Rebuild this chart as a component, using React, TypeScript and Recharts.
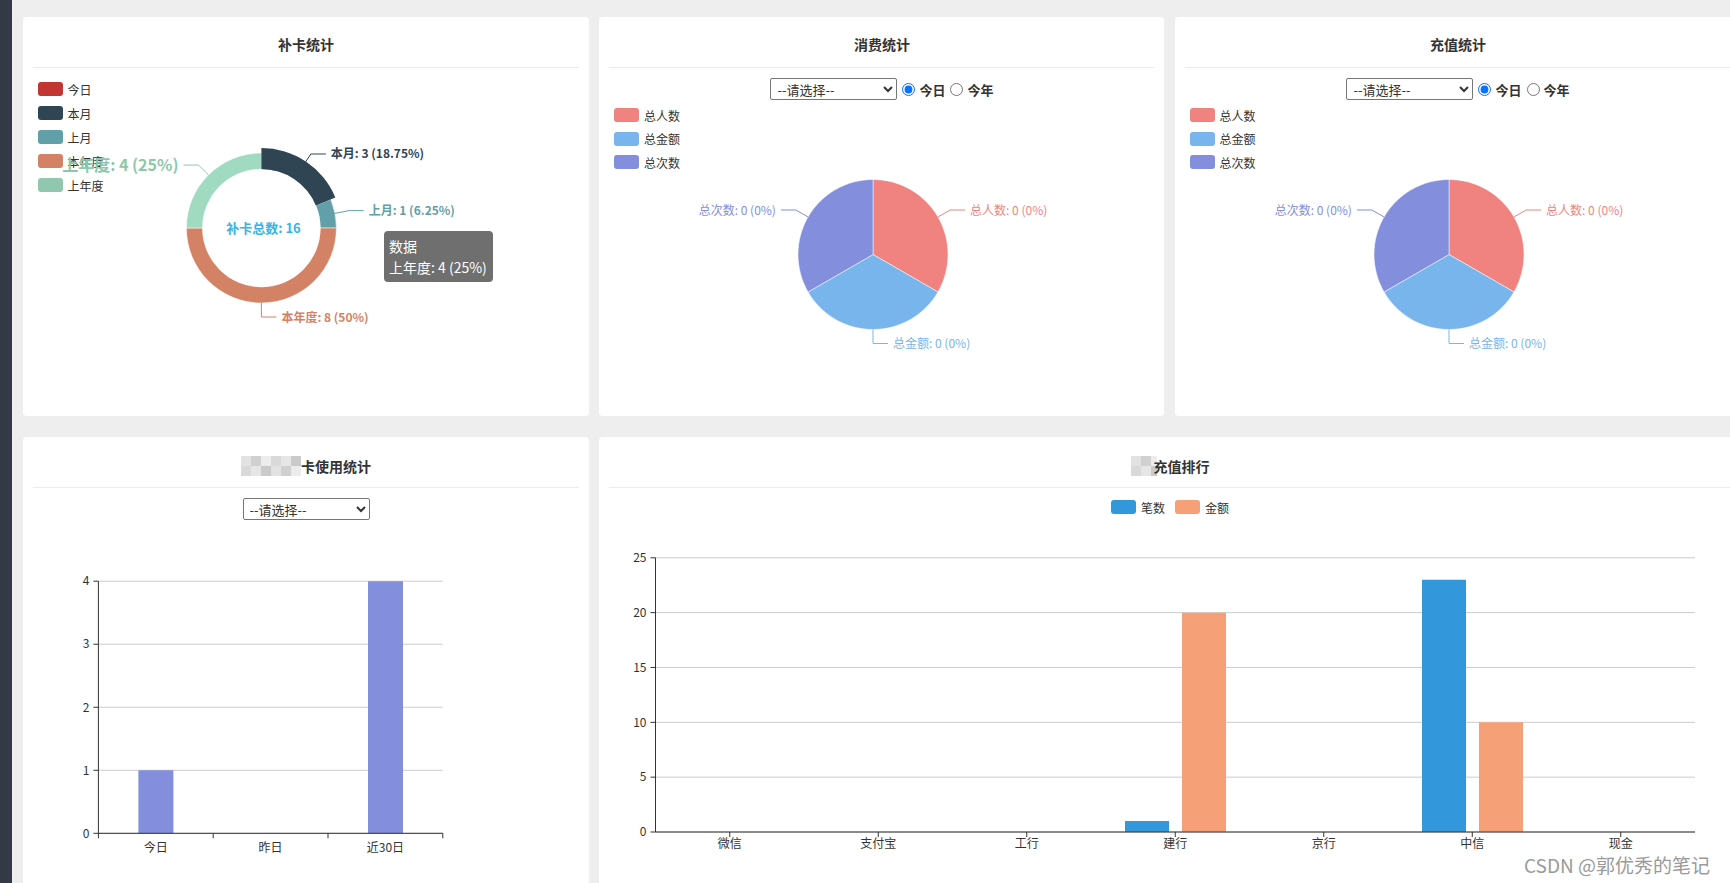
import React from "react";
import { PieChart, Pie, Cell, BarChart, Bar, XAxis, YAxis, CartesianGrid } from "recharts";

const FONT = "'Noto Sans CJK SC', 'Noto Sans', sans-serif";
const RAD = Math.PI / 180;

// 补卡统计
const cardNames = ["今日", "本月", "上月", "本年度", "上年度"];
const cardValues = [0, 3, 1, 8, 4];
const cardColors = ["#c23531", "#2f4554", "#61a0a8", "#d48265", "#91c7ae"];
const cardHover = "上年度"; // label emphasised + tooltip
const cardRaised = "本月"; // sector drawn a bit bigger

// 消费统计 / 充值统计
const sumNames = ["总人数", "总金额", "总次数"];
const consumeValues = [0, 0, 0];
const rechargeValues = [0, 0, 0];
const sumColors = ["#f08380", "#78b5ed", "#838edd"];

// 卡使用统计
const usageDays = ["今日", "昨日", "近30日"];
const usageCounts = [1, 0, 4];
const usageTicks = [0, 1, 2, 3, 4];

// 充值排行
const channels = ["微信", "支付宝", "工行", "建行", "京行", "中信", "现金"];
const channelCounts = [0, 0, 0, 1, 0, 23, 0];
const channelAmounts = [0, 0, 0, 20, 0, 10, 0];
const rankTicks = [0, 5, 10, 15, 20, 25];

const pct = (v: number, total: number) => (total ? +((v / total) * 100).toFixed(2) : 0);

// echarts-like pie label: radial leg, horizontal leg, text
function pieLabel(total: number, bold: boolean, hover?: string) {
  return (props: any) => {
    const { cx, cy, midAngle, outerRadius, payload } = props;
    const row = payload || props;
    if (total > 0 && row.count === 0) return null;
    const cos = Math.cos(-midAngle * RAD);
    const sin = Math.sin(-midAngle * RAD);
    const sx = cx + outerRadius * cos;
    const sy = cy + outerRadius * sin;
    const mx = cx + (outerRadius + 14) * cos;
    const my = cy + (outerRadius + 14) * sin;
    const right = cos > -1e-6;
    const ex = mx + (right ? 15 : -15);
    const em = row.name === hover;
    return (
      <g>
        <polyline points={`${sx},${sy} ${mx},${my} ${ex},${my}`} fill="none" stroke={row.labelColor} strokeWidth={1} />
        <text
          x={ex + (right ? 5 : -5)}
          y={my - 1}
          textAnchor={right ? "start" : "end"}
          dominantBaseline="central"
          fill={row.labelColor}
          fontSize={em ? 16 : 12}
          fontWeight={bold || em ? "bold" : "normal"}
          fontFamily={FONT}
        >
          {`${row.name}: ${row.count} (${pct(row.count, total)}%)`}
        </text>
      </g>
    );
  };
}

function Panel({ left, top, width, height, title, children }: any) {
  return (
    <div style={{ position: "absolute", left, top, width, height, background: "#fff", borderRadius: 4, overflow: "hidden" }}>
      <div style={{ position: "absolute", left: 0, right: 0, top: 17, height: 20, lineHeight: "20px", textAlign: "center", fontWeight: "bold", fontSize: 14, color: "#333" }}>
        {title}
      </div>
      <div style={{ position: "absolute", left: 10, right: 10, top: 50, height: 1, background: "#ececec" }} />
      {children}
    </div>
  );
}

function Mosaic({ width }: { width: number }) {
  const shades = ["#e2e2e2", "#d0d0d0", "#ececec", "#d9d9d9", "#e6e6e6", "#cacaca"];
  const cells = [];
  for (let i = 0; i < Math.ceil(width / 10); i++) {
    cells.push(
      <span key={i} style={{ display: "inline-block", width: 10, height: 20, verticalAlign: "top" }}>
        <span style={{ display: "block", height: 10, background: shades[i % 6] }} />
        <span style={{ display: "block", height: 10, background: shades[(i + 3) % 6] }} />
      </span>
    );
  }
  return <span style={{ display: "inline-block", width, height: 20, overflow: "hidden", verticalAlign: "middle", whiteSpace: "nowrap" }}>{cells}</span>;
}

function VLegend({ names, colors, left, top, gap }: any) {
  return (
    <div style={{ position: "absolute", left, top }}>
      {names.map((n: string, i: number) => (
        <div key={n} style={{ display: "flex", alignItems: "center", height: 14, marginBottom: gap - 14, fontSize: 12, color: "#333" }}>
          <span style={{ width: 25, height: 14, borderRadius: 3, background: colors[i], marginRight: 5 }} />
          {n}
        </div>
      ))}
    </div>
  );
}

function Picker({ top, radios, name }: any) {
  return (
    <div style={{ position: "absolute", top, left: 0, right: 0, height: 22, display: "flex", justifyContent: "center", alignItems: "center" }}>
      <select
        defaultValue=""
        style={{ width: 127, height: 22, fontSize: 13, fontFamily: FONT, color: "#333", border: "1px solid #767676", borderRadius: 2, background: "#fff", padding: "0 2px" }}
      >
        <option value="">--请选择--</option>
      </select>
      {radios && (
        <>
          <input type="radio" name={name} defaultChecked style={{ margin: "0 4px 0 5px", width: 13, height: 13 }} />
          <b style={{ fontSize: 13, color: "#333" }}>今日</b>
          <input type="radio" name={name} style={{ margin: "0 4px 0 5px", width: 13, height: 13 }} />
          <b style={{ fontSize: 13, color: "#333" }}>今年</b>
        </>
      )}
    </div>
  );
}

function SumPie({ values }: { values: number[] }) {
  const total = values.reduce((a, b) => a + b, 0);
  // echarts splits an all-zero pie evenly
  const data = sumNames.map((name, i) => ({
    name,
    count: values[i],
    weight: total === 0 ? 1 : values[i],
    labelColor: sumColors[i],
  }));
  return (
    <PieChart width={560} height={399} margin={{ top: 0, right: 0, bottom: 0, left: 0 }} style={{ position: "absolute", left: 0, top: 0 }}>
      <Pie
        data={data}
        dataKey="weight"
        nameKey="name"
        cx={274}
        cy={237.5}
        innerRadius={0}
        outerRadius={75}
        startAngle={90}
        endAngle={-270}
        stroke="#fff"
        strokeWidth={0.5}
        label={pieLabel(total, false)}
        labelLine={false}
        isAnimationActive={false}
      >
        {data.map((d, i) => (
          <Cell key={d.name} fill={sumColors[i]} />
        ))}
      </Pie>
    </PieChart>
  );
}

// category axis with ticks on the band boundaries
function BoundaryTick({ x, y, payload, index, band, count }: any) {
  return (
    <g>
      <line x1={x - band / 2} x2={x - band / 2} y1={y} y2={y + 5} stroke="#333" />
      {index === count - 1 && <line x1={x + band / 2} x2={x + band / 2} y1={y} y2={y + 5} stroke="#333" />}
      <text x={x} y={y + 13} textAnchor="middle" dominantBaseline="central" fill="#333" fontSize={12} fontFamily={FONT}>
        {payload.value}
      </text>
    </g>
  );
}

export default function App() {
  const cardTotal = cardValues.reduce((a, b) => a + b, 0);
  const cardData = cardNames.map((name, i) => ({
    name,
    count: cardValues[i],
    labelColor: name === cardHover ? "#8cc9aa" : cardColors[i],
  }));
  const hoverIdx = cardNames.indexOf(cardHover);

  const usageData = usageDays.map((day, i) => ({ day, count: usageCounts[i] }));
  const rankData = channels.map((channel, i) => ({ channel, 笔数: channelCounts[i], 金额: channelAmounts[i] }));

  const usagePlot = { left: 75.4, right: 146.2 };
  const usageBand = (566 - usagePlot.left - usagePlot.right) / usageDays.length;
  const rankPlot = { left: 56.5, right: 46 };

  return (
    <div style={{ position: "fixed", left: 0, top: 0, width: 1730, height: 883, overflow: "hidden", background: "#eeeeee", fontFamily: FONT }}>
      <div style={{ position: "absolute", left: 0, top: 0, width: 12, height: 883, background: "#333a46" }} />

      {/* 补卡统计 */}
      <Panel left={23} top={17} width={566} height={399} title="补卡统计">
        <VLegend names={cardNames} colors={cardColors} left={14.5} top={65.3} gap={24} />
        <PieChart width={566} height={399} margin={{ top: 0, right: 0, bottom: 0, left: 0 }} style={{ position: "absolute", left: 0, top: 0 }}>
          <Pie
            data={cardData}
            dataKey="count"
            nameKey="name"
            cx={238.4}
            cy={211}
            innerRadius={59}
            outerRadius={75}
            startAngle={90}
            endAngle={-270}
            stroke="#fff"
            strokeWidth={0.5}
            label={pieLabel(cardTotal, true, cardHover)}
            labelLine={false}
            isAnimationActive={false}
          >
            {cardData.map((d, i) => (
              <Cell key={d.name} fill={d.name === cardHover ? "#a0dac0" : cardColors[i]} />
            ))}
          </Pie>
          <Pie
            data={cardData}
            dataKey="count"
            nameKey="name"
            cx={238.4}
            cy={211}
            innerRadius={59}
            outerRadius={80}
            startAngle={90}
            endAngle={-270}
            stroke="none"
            isAnimationActive={false}
          >
            {cardData.map((d, i) => (
              <Cell key={d.name} fill={d.name === cardRaised ? cardColors[i] : "transparent"} />
            ))}
          </Pie>
        </PieChart>
        <div
          style={{
            position: "absolute",
            left: 240.5 - 70,
            top: 211 - 10,
            width: 140,
            height: 20,
            lineHeight: "20px",
            textAlign: "center",
            fontSize: 13,
            fontWeight: "bold",
            color: "#35b4e6",
          }}
        >
          {`补卡总数: ${cardTotal}`}
        </div>
        <div
          style={{
            position: "absolute",
            left: 361,
            top: 214,
            width: 109,
            height: 51,
            boxSizing: "border-box",
            background: "rgba(50,50,50,0.7)",
            borderRadius: 4,
            color: "#fff",
            fontSize: 14,
            lineHeight: "21px",
            padding: "5px 5px",
            whiteSpace: "nowrap",
          }}
        >
          <div>数据</div>
          <div>{`${cardHover}: ${cardValues[hoverIdx]} (${pct(cardValues[hoverIdx], cardTotal)}%)`}</div>
        </div>
      </Panel>

      {/* 消费统计 */}
      <Panel left={599.4} top={17} width={565} height={399} title="消费统计">
        <Picker top={61.3} radios name="consume" />
        <VLegend names={sumNames} colors={sumColors} left={14.6} top={91} gap={23.5} />
        <SumPie values={consumeValues} />
      </Panel>

      {/* 充值统计 */}
      <Panel left={1175} top={17} width={566} height={399} title="充值统计">
        <Picker top={61.3} radios name="recharge" />
        <VLegend names={sumNames} colors={sumColors} left={14.6} top={91} gap={23.5} />
        <SumPie values={rechargeValues} />
      </Panel>

      {/* 卡使用统计 */}
      <Panel
        left={23}
        top={436.5}
        width={566}
        height={460}
        title={
          <span>
            <Mosaic width={60} />
            <span style={{ verticalAlign: "middle" }}>卡使用统计</span>
          </span>
        }
      >
        <Picker top={61.5} />
        <BarChart
          width={566}
          height={440}
          data={usageData}
          margin={{ top: 144.2, right: usagePlot.right, bottom: 13.7, left: 0 }}
          style={{ position: "absolute", left: 0, top: 0 }}
        >
          <CartesianGrid vertical={false} stroke="#ccc" />
          <XAxis
            dataKey="day"
            height={30}
            tickSize={0}
            tickMargin={0}
            tickLine={false}
            axisLine={{ stroke: "#333" }}
            tick={<BoundaryTick band={usageBand} count={usageDays.length} />}
            interval={0}
          />
          <YAxis
            width={usagePlot.left}
            domain={[0, 4]}
            ticks={usageTicks}
            tickSize={5}
            tickMargin={4}
            axisLine={{ stroke: "#333" }}
            tickLine={{ stroke: "#333" }}
            tick={{ fill: "#333", fontSize: 12, fontFamily: FONT }}
          />
          <Bar dataKey="count" fill="#838edd" barSize={35} isAnimationActive={false} />
        </BarChart>
      </Panel>

      {/* 充值排行 */}
      <Panel
        left={599}
        top={436.5}
        width={1142}
        height={460}
        title={
          <span>
            <Mosaic width={26} />
            <span style={{ verticalAlign: "middle", marginLeft: -3 }}>充值排行</span>
          </span>
        }
      >
        <div style={{ position: "absolute", top: 63.5, left: 0, right: 0, display: "flex", justifyContent: "center", fontSize: 12, color: "#333" }}>
          {["笔数", "金额"].map((n, i) => (
            <div key={n} style={{ display: "flex", alignItems: "center", height: 14, marginRight: i === 0 ? 10 : 0 }}>
              <span style={{ width: 25, height: 14, borderRadius: 3, background: i === 0 ? "#3398db" : "#f5a077", marginRight: 5 }} />
              {n}
            </div>
          ))}
        </div>
        <BarChart
          width={1142}
          height={440}
          data={rankData}
          margin={{ top: 120.8, right: rankPlot.right, bottom: 15, left: 0 }}
          barGap={13}
          style={{ position: "absolute", left: 0, top: 0 }}
        >
          <CartesianGrid vertical={false} stroke="#ccc" />
          <XAxis
            dataKey="channel"
            height={30}
            tickSize={5}
            tickMargin={2}
            tickLine={{ stroke: "#333" }}
            axisLine={{ stroke: "#333" }}
            tick={{ fill: "#333", fontSize: 12, fontFamily: FONT }}
            interval={0}
          />
          <YAxis
            width={rankPlot.left}
            domain={[0, 25]}
            ticks={rankTicks}
            tickSize={5}
            tickMargin={4}
            axisLine={{ stroke: "#333" }}
            tickLine={{ stroke: "#333" }}
            tick={{ fill: "#333", fontSize: 12, fontFamily: FONT }}
          />
          <Bar dataKey="笔数" fill="#3398db" barSize={44} isAnimationActive={false} />
          <Bar dataKey="金额" fill="#f5a077" barSize={44} isAnimationActive={false} />
        </BarChart>
      </Panel>

      <div style={{ position: "absolute", left: 1524, top: 852, fontSize: 19, lineHeight: "26px", color: "#9a9a9a", textShadow: "0 0 2px #fff", whiteSpace: "nowrap" }}>
        CSDN @郭优秀的笔记
      </div>
    </div>
  );
}
